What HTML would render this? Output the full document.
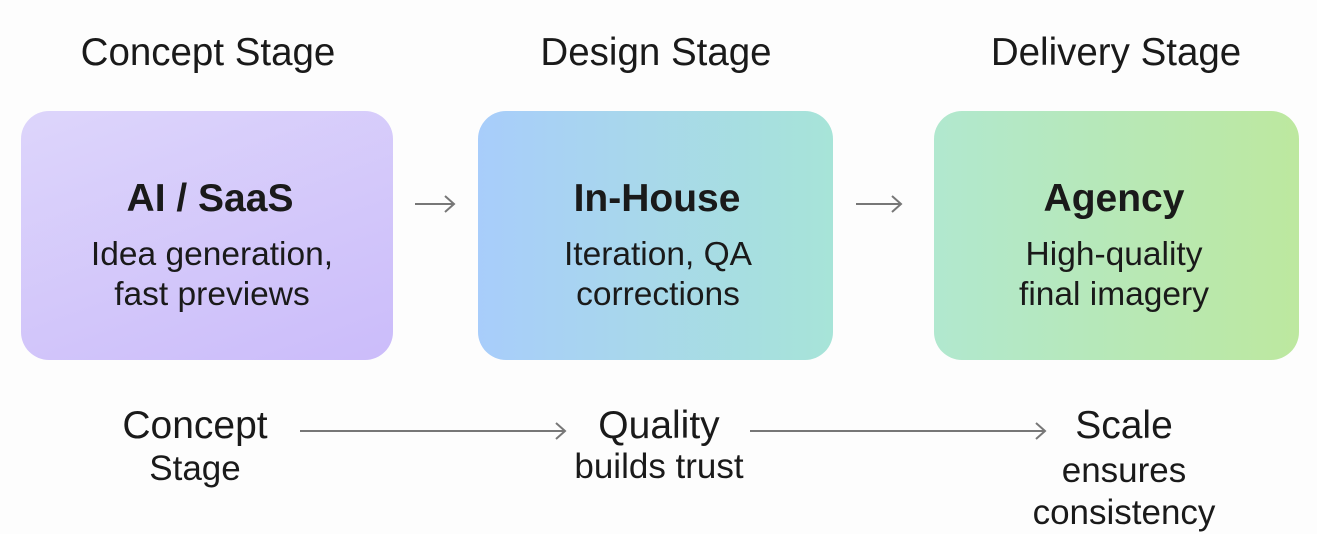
<!DOCTYPE html>
<html><head><style>
body{margin:0;width:1317px;height:533px;background:#fdfdfd;font-family:"Liberation Sans",sans-serif;color:#1a1a1a;position:relative;overflow:hidden}
.t{position:absolute;text-align:center;white-space:nowrap;transform:translateX(-50%)}
.box{position:absolute;top:111px;height:249px;border-radius:28px}
</style></head><body>
<div class="t" style="left:208px;top:31px;font-size:38.5px">Concept Stage</div>
<div class="t" style="left:656px;top:31px;font-size:38.5px">Design Stage</div>
<div class="t" style="left:1116px;top:31px;font-size:38.5px">Delivery Stage</div>

<div class="box" style="left:21px;width:372px;background:linear-gradient(160deg,#ddd5fb,#cbbcfa)"></div>
<div class="box" style="left:478px;width:355px;background:linear-gradient(90deg,#a8cdfb,#a7e4d8)"></div>
<div class="box" style="left:934px;width:365px;background:linear-gradient(90deg,#b1e8cf,#bde89f)"></div>

<div class="t" style="left:210px;top:177px;font-size:39px;font-weight:bold">AI / SaaS</div>
<div class="t" style="left:212px;top:235px;font-size:33.5px;line-height:40px">Idea generation,<br>fast previews</div>
<div class="t" style="left:657px;top:177px;font-size:39px;font-weight:bold">In-House</div>
<div class="t" style="left:658px;top:235px;font-size:33.5px;line-height:40px">Iteration, QA<br>corrections</div>
<div class="t" style="left:1114px;top:177px;font-size:39px;font-weight:bold">Agency</div>
<div class="t" style="left:1114px;top:235px;font-size:33.5px;line-height:40px">High-quality<br>final imagery</div>

<div class="t" style="left:195px;top:404px;font-size:39px">Concept</div>
<div class="t" style="left:195px;top:449px;font-size:35px">Stage</div>
<div class="t" style="left:659px;top:404px;font-size:39px">Quality</div>
<div class="t" style="left:659px;top:447px;font-size:35px">builds trust</div>
<div class="t" style="left:1124px;top:404px;font-size:39px">Scale</div>
<div class="t" style="left:1124px;top:450px;font-size:35px;line-height:42px">ensures<br>consistency</div>

<svg width="1317" height="533" style="position:absolute;left:0;top:0" fill="none" stroke="#777" stroke-width="2">
<path d="M415 204H454M445 196L454 204L445 212"/>
<path d="M856 204H901M892 196L901 204L892 212"/>
<path d="M300 431H565M556 423L565 431L556 439"/>
<path d="M750 431H1045M1036 423L1045 431L1036 439"/>
</svg>
</body></html>
